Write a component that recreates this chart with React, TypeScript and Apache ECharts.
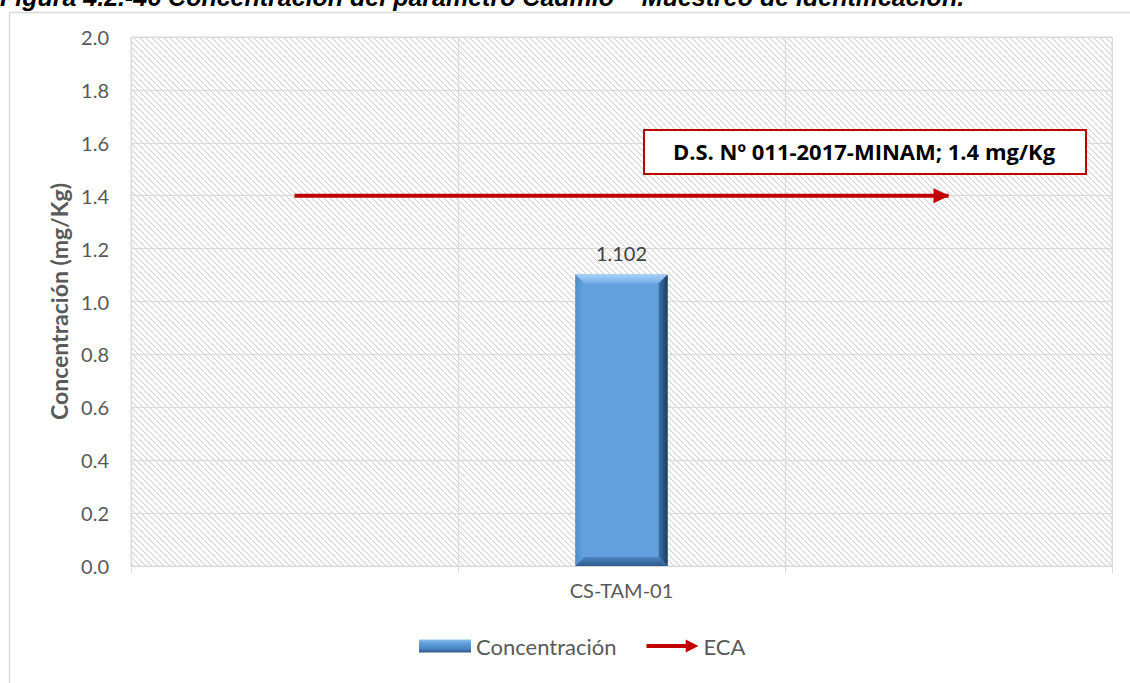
import React, { useEffect, useRef } from "react";
import * as echarts from "echarts";

const categories = ["CS-TAM-01"];
const concentracion = [1.102];
const ecaLine = [[0.5, 1.4], [2.5, 1.4]];
const yTicks = { min: 0, max: 2, interval: 0.2 };
const titleText = "Figura 4.2.-46 Concentración del parámetro Cadmio – Muestreo de identificación.";
const noteText = "D.S. Nº 011-2017-MINAM; 1.4 mg/Kg";

function makePattern(): string {
  const c = document.createElement("canvas");
  c.width = 6;
  c.height = 6;
  const ctx = c.getContext("2d")!;
  ctx.fillStyle = "#ffffff";
  ctx.fillRect(0, 0, 6, 6);
  ctx.strokeStyle = "#d4d4d4";
  ctx.lineWidth = 1.2;
  for (let k = -6; k <= 6; k += 6) {
    ctx.beginPath();
    ctx.moveTo(k, 0);
    ctx.lineTo(k + 6, 6);
    ctx.stroke();
  }
  return c.toDataURL();
}

const FONT = "Lato, 'Open Sans', sans-serif";

export default function App() {
  const ref = useRef<HTMLDivElement>(null);
  useEffect(() => {
    if (!ref.current) return;
    const chart = echarts.init(ref.current, null, { renderer: "svg" });
    const pattern = { image: makePattern(), repeat: "repeat" };
    const arrowIcon = "path://M0,4.5L40,4.5L40,0L53,6.5L40,13L40,8.5L0,8.5Z";
    const barIconColor = new echarts.graphic.LinearGradient(0, 0, 0, 1, [
      { offset: 0, color: "#8cbfee" },
      { offset: 0.3, color: "#5f9fdc" },
      { offset: 0.7, color: "#4a86c4" },
      { offset: 1, color: "#2c5786" },
    ]);
    chart.setOption({
      animation: false,
      backgroundColor: "#ffffff",
      textStyle: { fontFamily: FONT },
      grid: {
        left: 131,
        right: 18,
        top: 37,
        bottom: 117,
        show: true,
        backgroundColor: pattern,
        borderColor: "#d9d9d9",
        borderWidth: 1,
      },
      legend: {
        bottom: 21,
        left: 414,
        itemWidth: 52,
        itemHeight: 13,
        itemGap: 30,
        textStyle: { fontSize: 22, color: "#595959", fontFamily: FONT },
        data: [
          { name: "Concentración", icon: "rect", itemStyle: { color: barIconColor } },
          { name: "ECA", icon: arrowIcon, itemStyle: { color: "#c00000" } },
        ],
      },
      xAxis: [
        {
          type: "category",
          data: categories,
          position: "bottom",
          axisLine: { show: true, lineStyle: { color: "#d9d9d9", width: 1 } },
          axisTick: { show: false },
          axisLabel: { fontSize: 20, color: "#595959", margin: 14, fontFamily: FONT },
          splitLine: { show: false },
        },
        {
          type: "value",
          min: 0,
          max: 3,
          interval: 1,
          position: "bottom",
          axisLine: { show: false },
          axisLabel: { show: false },
          axisTick: { show: true, length: 7, lineStyle: { color: "#d9d9d9" } },
          splitLine: { show: true, lineStyle: { color: "#d9d9d9", width: 1 } },
        },
      ],
      yAxis: {
        type: "value",
        min: yTicks.min,
        max: yTicks.max,
        interval: yTicks.interval,
        name: "Concentración (mg/Kg)",
        nameLocation: "middle",
        nameGap: 60,
        nameTextStyle: { fontSize: 23, fontWeight: "bold", color: "#595959", fontFamily: FONT },
        axisLine: { show: false },
        axisTick: { show: false },
        axisLabel: {
          fontSize: 20,
          color: "#595959",
          margin: 22,
          fontFamily: FONT,
          formatter: (v: number) => v.toFixed(1),
        },
        splitLine: { show: true, lineStyle: { color: "#d9d9d9", width: 1 } },
      },
      series: [
        {
          name: "Concentración",
          type: "custom",
          xAxisIndex: 0,
          yAxisIndex: 0,
          encode: { x: 0, y: 1 },
          data: concentracion.map((v, i) => [i, v]),
          renderItem: (params: any, api: any) => {
            const base = api.coord([api.value(0), 0]);
            const top = api.coord([api.value(0), api.value(1)]);
            const bw = api.size([1, 0])[0] * 0.094;
            const l = base[0] - bw / 2;
            const r = base[0] + bw / 2;
            const t = top[1];
            const b = base[1];
            const e = 9;
            return {
              type: "group",
              children: [
                {
                  type: "rect",
                  shape: { x: l, y: t, width: r - l, height: b - t },
                  style: { fill: "#62a1de" },
                },
                {
                  type: "polygon",
                  shape: { points: [[l, t], [r, t], [r - e, t + e], [l + e, t + e]] },
                  style: {
                    fill: new echarts.graphic.LinearGradient(0, 0, 0, 1, [
                      { offset: 0, color: "#a6d0f5" },
                      { offset: 1, color: "#72adea" },
                    ]),
                  },
                },
                {
                  type: "polygon",
                  shape: { points: [[l, t], [l + e, t + e], [l + e, b - e], [l, b]] },
                  style: {
                    fill: new echarts.graphic.LinearGradient(0, 0, 1, 0, [
                      { offset: 0, color: "#4f8ccb" },
                      { offset: 1, color: "#66a4df" },
                    ]),
                  },
                },
                {
                  type: "polygon",
                  shape: { points: [[r, t], [r, b], [r - e, b - e], [r - e, t + e]] },
                  style: {
                    fill: new echarts.graphic.LinearGradient(0, 0, 1, 0, [
                      { offset: 0, color: "#3f74ab" },
                      { offset: 1, color: "#1c3a5e" },
                    ]),
                  },
                },
                {
                  type: "polygon",
                  shape: { points: [[l, b], [l + e, b - e], [r - e, b - e], [r, b]] },
                  style: {
                    fill: new echarts.graphic.LinearGradient(0, 0, 0, 1, [
                      { offset: 0, color: "#4b84bf" },
                      { offset: 1, color: "#2e5b8c" },
                    ]),
                  },
                },
                {
                  type: "text",
                  style: {
                    text: api.value(1).toFixed(3),
                    x: base[0],
                    y: t - 12,
                    align: "center",
                    verticalAlign: "bottom",
                    fontSize: 20,
                    fill: "#404040",
                    fontFamily: FONT,
                  },
                },
              ],
            };
          },
          itemStyle: { color: "#5f9fdc" },
          z: 3,
        },
        {
          name: "ECA",
          type: "line",
          xAxisIndex: 1,
          yAxisIndex: 0,
          data: ecaLine.map((p, i) =>
            i === ecaLine.length - 1
              ? { value: p, symbol: "triangle", symbolRotate: -90, symbolSize: [15, 16], symbolOffset: [-7, 0] }
              : { value: p, symbol: "none" }
          ),
          showSymbol: true,
          lineStyle: { color: "#c00000", width: 4 },
          itemStyle: { color: "#c00000" },
          z: 4,
        },
      ],
      graphic: [
        {
          type: "rect",
          left: 7,
          top: 10,
          shape: { width: 1140, height: 700 },
          style: { fill: "none", stroke: "#d9d9d9", lineWidth: 1.5 },
          z: -1,
          silent: true,
        },
        {
          type: "text",
          left: 0,
          top: -16,
          style: {
            text: titleText,
            font: "italic bold 25px 'Liberation Sans', Arial, sans-serif",
            fill: "#000000",
          },
        },
        {
          type: "rect",
          left: 643,
          top: 129,
          z: 20,
          shape: { width: 442, height: 44 },
          style: { fill: "#ffffff", stroke: "#c00000", lineWidth: 2 },
        },
        {
          type: "text",
          x: 864,
          y: 151,
          z: 21,
          style: {
            text: noteText,
            align: "center",
            verticalAlign: "middle",
            fontSize: 22,
            fontWeight: "bold",
            fill: "#000000",
            fontFamily: "'Open Sans', Lato, sans-serif",
          },
        },
      ],
    });
    return () => chart.dispose();
  }, []);
  return (
    <div
      ref={ref}
      style={{ position: "absolute", left: 0, top: 0, width: 1130, height: 683 }}
    />
  );
}
